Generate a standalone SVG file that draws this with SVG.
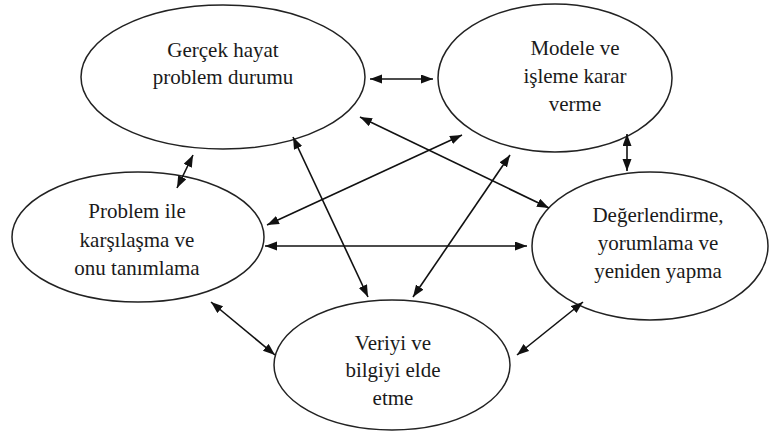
<svg xmlns="http://www.w3.org/2000/svg" width="775" height="434" viewBox="0 0 775 434">
<style>
.n ellipse{fill:#fff;stroke:#222;stroke-width:1.5}
.n text{font-size:21px;fill:#1a1a1a;text-anchor:middle}
.c line{stroke:#111;stroke-width:1.6;marker-start:url(#ah);marker-end:url(#ah)}
</style>
<defs>
<marker id="ah" markerUnits="userSpaceOnUse" markerWidth="13" markerHeight="10" refX="12" refY="4.5" orient="auto-start-reverse">
<path d="M0,0 L12,4.5 L0,9 z" fill="#111"/>
</marker>
</defs>
<rect width="775" height="434" fill="#fff"/>
<g font-family="Liberation Serif, Noto Serif, DejaVu Serif, serif">
<g id="n1" class="n"><ellipse cx="223" cy="77" rx="142" ry="72"/><text x="223" y="57">Gerçek hayat</text><text x="223" y="84">problem durumu</text></g>
<g id="n2" class="n"><ellipse cx="555" cy="78" rx="117" ry="74"/><text x="575" y="55">Modele ve</text><text x="575" y="83">işleme karar</text><text x="575" y="111">verme</text></g>
<g id="n3" class="n"><ellipse cx="138" cy="237" rx="126" ry="65"/><text x="137" y="218">Problem ile</text><text x="137" y="247">karşılaşma ve</text><text x="137" y="275">onu tanımlama</text></g>
<g id="n4" class="n"><ellipse cx="650" cy="246" rx="118" ry="74"/><text x="658" y="222">Değerlendirme,</text><text x="658" y="250">yorumlama ve</text><text x="658" y="278">yeniden yapma</text></g>
<g id="n5" class="n"><ellipse cx="392" cy="365" rx="118" ry="65"/><text x="393" y="350">Veriyi ve</text><text x="393" y="377">bilgiyi elde</text><text x="393" y="405">etme</text></g>
</g>
<g id="connectors" class="c">
<line x1="370" y1="79" x2="433" y2="79"/>
<line x1="627" y1="134" x2="627" y2="171"/>
<line x1="193" y1="155" x2="177" y2="188"/>
<line x1="265" y1="246" x2="527" y2="246"/>
<line x1="267" y1="225" x2="462" y2="135"/>
<line x1="293" y1="137" x2="368" y2="297"/>
<line x1="360" y1="117" x2="549" y2="208"/>
<line x1="510" y1="155" x2="413" y2="297"/>
<line x1="211" y1="302" x2="275" y2="355"/>
<line x1="583" y1="302" x2="517" y2="355"/>
</g>
</svg>
